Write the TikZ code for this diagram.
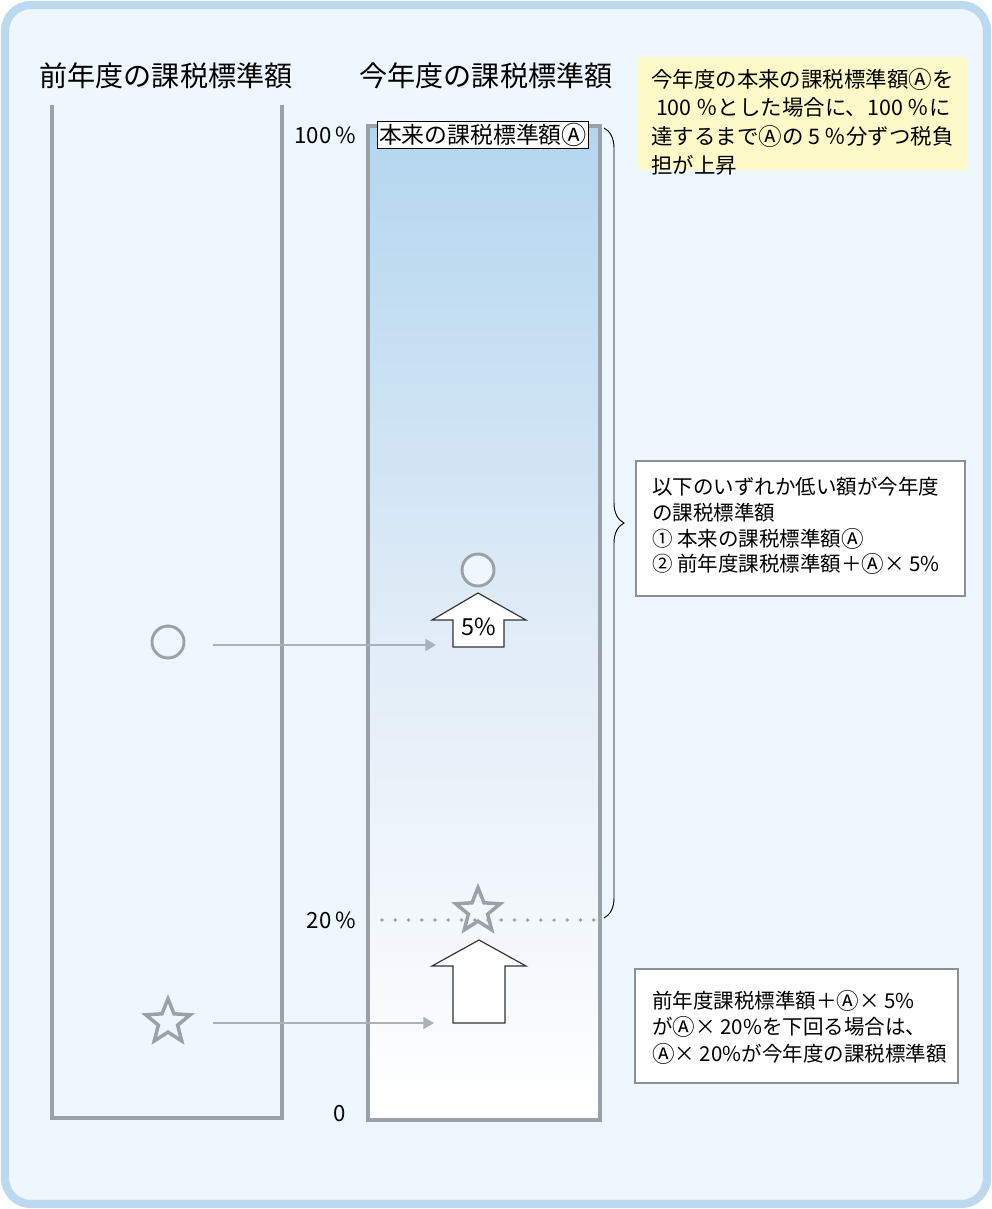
\documentclass[tikz,border=0pt]{standalone}
\usepackage{fontspec}
\setmainfont{Noto Sans CJK JP}
\newcommand\cA{\raisebox{-0.05em}{\scalebox{1.1}{Ⓐ}}}
\usetikzlibrary{shapes.geometric,decorations.pathreplacing,arrows.meta}
\definecolor{framec}{HTML}{BCD9F0}
\definecolor{bgc}{HTML}{EEF6FE}
\definecolor{barc}{HTML}{9BA1A8}
\definecolor{arrc}{HTML}{A9B1BA}
\definecolor{notec}{HTML}{FDF9C8}
\definecolor{topblue}{HTML}{B3D6EF}
\definecolor{midblue}{HTML}{E0ECF7}
\tikzset{
  title/.style={font=\fontsize{24}{27}\selectfont},
  tick/.style={font=\fontsize{19}{22}\selectfont,anchor=east},
  mark circ/.style={circle,draw=barc,line width=2.5pt,fill=bgc,minimum size=0.96cm,inner sep=0pt},
  mark star/.style={star,star points=5,star point ratio=2.3,draw=barc,line width=3pt,minimum size=1.4cm,inner sep=0pt},
  move/.style={draw=arrc,line width=2.5pt,-{Triangle[length=9pt,width=10pt]}},
  blockup/.style={draw=black!80,line width=1pt,fill=white},
  notetext/.style={align=left,anchor=north west,inner sep=0pt}
}
\begin{document}
\begin{tikzpicture}[x=0.03cm,y=-0.03cm]
      \useasboundingbox (0,0) rectangle (992,1209);
      \draw[framec,line width=7pt,fill=bgc,rounded corners=22] (5,5) rectangle (987,1204);
      % columns
      \draw[barc,line width=3pt] (52,105)--(52,1118)--(282,1118)--(282,105);
      \shade[top color=topblue,bottom color=white,middle color=midblue] (368,126) rectangle (600,1120);
      \draw[barc,line width=3pt] (368,126) rectangle (600,1120);
      \node[title] (oldt) at (166,76) {前年度の課税標準額};
      \node[title] (newt) at (486,76) {今年度の課税標準額};
      \node[draw=black,line width=0.8pt,fill=white,inner sep=1.5pt,font=\fontsize{19.5}{22}\selectfont] (full) at (483,135) {本来の課税標準額\cA};
      \node[tick] (p100) at (360,135) {100\,\%};
      \node[tick] (p20) at (360,920) {20\,\%};
      \node[tick] (p0) at (350,1114) {0};
      \draw[barc,line width=3.2pt,line cap=round,dash pattern=on 0pt off 11.3pt] (382,920)--(600,920);
      % brace
      \coordinate (btop) at (604,128);
      \coordinate (bbot) at (604,918);
      \draw[black,line width=0.8pt,decorate,decoration={brace,amplitude=0.6cm}] (btop)--(bbot);
      % marks
      \node[mark circ] (oldc) at (168,642) {};
      \node[mark circ] (newc) at (478,570) {};
      \node[mark star] (olds) at (168,1022) {};
      \node[mark star] (news) at (478,911) {};
      \coordinate (cbeg) at (213,645);
      \coordinate (cend) at (436,645);
      \coordinate (sbeg) at (213,1023);
      \coordinate (send) at (434,1023);
      \draw[move] (cbeg)--(cend);
      \draw[move] (sbeg)--(send);
      % block arrows
      \draw[blockup] (478,593)--(526,620)--(504,620)--(504,647)--(453,647)--(453,620)--(432,620)--cycle;
      \node[font=\fontsize{20}{22}\selectfont] (five) at (479,627) {5\%};
      \draw[blockup] (479,940)--(526,966)--(505,966)--(505,1023)--(453,1023)--(453,966)--(432,966)--cycle;
      % notes
      \fill[notec] (637,57) rectangle (968,170);
      \node[notetext,font=\fontsize{18.3}{24.5}\selectfont] (note) at (651,68)
        {今年度の本来の課税標準額\cA を\\\ 100 ％とした場合に、100 ％に\\達するまで\cA の 5 ％分ずつ税負\\担が上昇};
      \draw[barc!90!black,line width=2.5pt,fill=white] (636,461) rectangle (965,596);
      \node[notetext,font=\fontsize{17.5}{22}\selectfont] (lower) at (652,477)
        {以下のいずれか低い額が今年度\\の課税標準額\\① 本来の課税標準額\cA\\② 前年度課税標準額＋\cA× 5\%};
      \draw[barc!90!black,line width=2.5pt,fill=white] (635,969) rectangle (958,1083);
      \node[notetext,font=\fontsize{17.5}{22.5}\selectfont] (floor) at (652,990)
        {前年度課税標準額＋\cA× 5\%\\が\cA× 20\%を下回る場合は、\\\cA× 20\%が今年度の課税標準額};
\end{tikzpicture}
\end{document}
